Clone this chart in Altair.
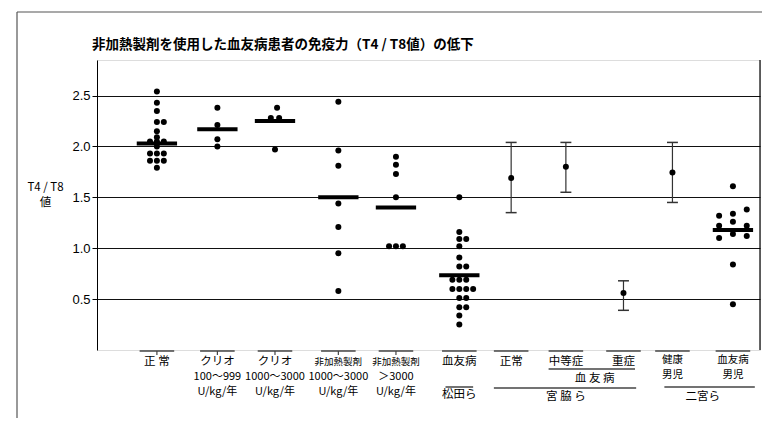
import altair as alt
import pandas as pd

JP = "Noto Sans CJK JP"
title_text = "非加熱製剤を使用した血友病患者の免疫力（T4 / T8値）の低下"

# ---- groups (left to right) ----
group_pos = [1.0, 2.05, 3.05, 4.15, 5.15, 6.25, 7.15, 8.1, 9.1, 9.95, 11.0]
row1_labels = ["正 常", "クリオ", "クリオ", "非加熱製剤", "非加熱製剤", "血友病",
               "正常", "中等症", "重症", "健康", "血友病"]
row2_labels = ["", "100〜999", "1000〜3000", "1000〜3000", "＞3000", "",
               "", "", "", "男児", "男児"]
row3_labels = ["", "U/kg/年", "U/kg/年", "U/kg/年", "U/kg/年", "",
               "", "", "", "", ""]

# ---- individual values (dot groups) ----
g1_vals = [2.54, 2.43, 2.35, 2.24, 2.24, 2.15, 2.09, 2.05, 2.05, 2.05, 2.0,
           1.93, 1.93, 1.93, 1.86, 1.86, 1.86, 1.79]
g1_cols = [0, 0, 0, 0, 1, 0, 0, -1, 0, 1, 0, -1, 0, 1, -1, 0, 1, 0]
g2_vals = [2.38, 2.21, 2.07, 2.0]
g2_cols = [0, 0, 0, 0]
g3_vals = [2.38, 2.28, 2.28, 1.97]
g3_cols = [0.3, -0.6, 0.6, 0]
g4_vals = [2.44, 1.96, 1.81, 1.44, 1.21, 0.95, 0.58]
g4_cols = [0, 0, 0, 0, 0, 0, 0]
g5_vals = [1.90, 1.82, 1.73, 1.50, 1.02, 1.02, 1.02]
g5_cols = [0, 0, 0, 0, -1, 0, 1]
g6_vals = [1.50, 1.16, 1.09, 1.09, 1.02, 0.91, 0.82, 0.82, 0.69, 0.69, 0.69,
           0.60, 0.60, 0.60, 0.60, 0.51, 0.51, 0.42, 0.42, 0.34, 0.25]
g6_cols = [0, 0, 0, 1, 0, 0, 0, 1, -1, 0, 1, -1, 0, 1, 2, 0, 1, 0, 1, 0, 0]
g11_vals = [1.61, 1.38, 1.34, 1.32, 1.26, 1.22, 1.22, 1.14, 1.12, 1.10, 0.84, 0.45]
g11_cols = [0, 2, 0, -2, 0, -2, 2, 0, 2, -2, 0, 0]

# medians (thick bars)
median_groups = [0, 1, 2, 3, 4, 5, 10]
median_vals = [2.03, 2.17, 2.25, 1.50, 1.40, 0.735, 1.18]

# mean +/- range (error-bar groups)
err_groups = [6, 7, 8, 9]
err_mean = [1.69, 1.80, 0.56, 1.745]
err_low = [1.35, 1.55, 0.39, 1.45]
err_high = [2.04, 2.04, 0.68, 2.04]

COL_STEP = 0.12
BAR_HALF = 0.35
CAP_HALF = 0.095
BRACKET_HALF = 0.3

dot_sets = [(0, g1_vals, g1_cols), (1, g2_vals, g2_cols), (2, g3_vals, g3_cols),
            (3, g4_vals, g4_cols), (4, g5_vals, g5_cols), (5, g6_vals, g6_cols),
            (10, g11_vals, g11_cols)]
dots = pd.DataFrame([
    {"x": group_pos[g] + c * COL_STEP, "value": v}
    for g, vals, cols in dot_sets for v, c in zip(vals, cols)
])
med = pd.DataFrame({
    "x": [group_pos[g] - BAR_HALF for g in median_groups],
    "x2": [group_pos[g] + BAR_HALF for g in median_groups],
    "value": median_vals,
})
err = pd.DataFrame({
    "x": [group_pos[g] for g in err_groups],
    "xa": [group_pos[g] - CAP_HALF for g in err_groups],
    "xb": [group_pos[g] + CAP_HALF for g in err_groups],
    "mean": err_mean, "low": err_low, "high": err_high,
})
groups = pd.DataFrame({
    "x": group_pos,
    "xa": [p - BRACKET_HALF for p in group_pos],
    "xb": [p + BRACKET_HALF for p in group_pos],
    "r1": row1_labels, "r2": row2_labels, "r3": row3_labels,
    "idx": list(range(len(group_pos))),
})

xscale = alt.Scale(domain=[-0.04, 11.47], nice=False, zero=False)
yscale = alt.Scale(domain=[0, 2.85], nice=False, zero=False)
yaxis = alt.Axis(values=[0.5, 1.0, 1.5, 2.0, 2.5], format=".1f",
                 title=["T4 / T8", "値"], titleAngle=0, titleAlign="center",
                 titleBaseline="top", titleX=-52, titleY=121, titleFontSize=11.5,
                 titleLineHeight=15,
                 titleFontWeight="normal", titleFont=JP, titleColor="black",
                 labelFont="Liberation Sans", labelFontSize=13, labelColor="black",
                 labelPadding=2, tickSize=5, tickColor="black", domainColor="black",
                 grid=True, gridColor="#111", gridWidth=1.2)


def X(f):
    return alt.X(f, type="quantitative", scale=xscale, axis=None)


def Y(f):
    return alt.Y(f, type="quantitative", scale=yscale, axis=yaxis)


one = pd.DataFrame({"a": [0]})
title_df = pd.DataFrame({"t": [title_text]})

title_layer = alt.Chart(title_df).mark_text(
    font=JP, fontSize=13.5, fontWeight="bold", color="black",
    align="left", baseline="middle").encode(
    x=alt.value(-5), y=alt.value(-15), text="t:N")

right_line = alt.Chart(one).mark_rule(color="black", strokeWidth=1.2).encode(
    x=alt.value(663), y=alt.value(0), y2=alt.value(290))

dot_layer = alt.Chart(dots).mark_circle(size=36, color="black", opacity=1).encode(
    x=X("x"), y=Y("value"))

med_layer = alt.Chart(med).mark_rule(color="black", strokeWidth=4).encode(
    x=X("x"), x2=alt.X2("x2"), y=Y("value"))

err_line = alt.Chart(err).mark_rule(color="#333", strokeWidth=1.2).encode(
    x=X("x"), y=Y("low"), y2=alt.Y2("high"))
cap_lo = alt.Chart(err).mark_rule(color="#333", strokeWidth=1.5).encode(
    x=X("xa"), x2=alt.X2("xb"), y=Y("low"))
cap_hi = alt.Chart(err).mark_rule(color="#333", strokeWidth=1.5).encode(
    x=X("xa"), x2=alt.X2("xb"), y=Y("high"))
err_dot = alt.Chart(err).mark_circle(size=36, color="black", opacity=1).encode(
    x=X("x"), y=Y("mean"))

bracket = alt.Chart(groups).mark_rule(color="#444", strokeWidth=1.5).encode(
    x=X("xa"), x2=alt.X2("xb"), y=alt.value(291))
bracket_tick = alt.Chart(groups).transform_filter("datum.idx <= 4").mark_rule(
    color="#444", strokeWidth=1.2).encode(x=X("x"), y=alt.value(291), y2=alt.value(295))

txt = dict(font=JP, color="black", baseline="middle", align="center")
row1 = alt.Chart(groups).transform_filter(
    "datum.idx != 3 && datum.idx != 4 && datum.idx < 9").mark_text(
    fontSize=11.5, **txt).encode(x=X("x"), y=alt.value(302), text="r1:N")
row1s = alt.Chart(groups).transform_filter("datum.idx == 3 || datum.idx == 4").mark_text(
    fontSize=9.5, **txt).encode(x=X("x"), y=alt.value(302), text="r1:N")
row1b = alt.Chart(groups).transform_filter("datum.idx >= 9").mark_text(
    fontSize=10.5, **txt).encode(x=X("x"), y=alt.value(300), text="r1:N")
row2 = alt.Chart(groups).transform_filter("datum.idx <= 4").mark_text(
    fontSize=11, **txt).encode(x=X("x"), y=alt.value(317), text="r2:N")
row2b = alt.Chart(groups).transform_filter("datum.idx >= 9").mark_text(
    fontSize=10.5, **txt).encode(x=X("x"), y=alt.value(315), text="r2:N")
row3 = alt.Chart(groups).transform_filter("datum.idx <= 4").mark_text(
    fontSize=11, **txt).encode(x=X("x"), y=alt.value(332), text="r3:N")

# group captions below
cap_matsuda = pd.DataFrame({"x": [group_pos[5]], "xa": [group_pos[5] - 0.24],
                            "xb": [group_pos[5] + 0.24], "t": ["松田ら"]})
cap_hemo = pd.DataFrame({"x": [(group_pos[7] + group_pos[8]) / 2],
                         "xa": [group_pos[7] - 0.3], "xb": [group_pos[8] + 0.2],
                         "t": ["血 友 病"]})
cap_miya = pd.DataFrame({"x": [group_pos[7]], "xa": [group_pos[6] - 0.3],
                         "xb": [group_pos[8] + 0.22], "t": ["宮 脇 ら"]})
cap_nino = pd.DataFrame({"x": [(group_pos[9] + group_pos[10]) / 2],
                         "xa": [group_pos[9] - 0.14], "xb": [group_pos[10] + 0.38],
                         "t": ["二宮ら"]})


def caption(df, line_y, text_y):
    ln = alt.Chart(df).mark_rule(color="#444", strokeWidth=1.5).encode(
        x=X("xa"), x2=alt.X2("xb"), y=alt.value(line_y))
    tx = alt.Chart(df).mark_text(fontSize=11.5, **txt).encode(
        x=X("x"), y=alt.value(text_y), text="t:N")
    return [ln, tx]


captions = (caption(cap_matsuda, 327, 335) + caption(cap_hemo, 309, 319)
            + caption(cap_miya, 328, 337) + caption(cap_nino, 327, 337))

frame_left = alt.Chart(one).mark_rule(color="#555", strokeWidth=1.2).encode(
    x=alt.value(-80), y=alt.value(-48), y2=alt.value(360))
frame_top = alt.Chart(one).mark_rule(color="#555", strokeWidth=1.2).encode(
    x=alt.value(-80), x2=alt.value(673), y=alt.value(-48))

chart = alt.layer(
    right_line, dot_layer, med_layer, err_line, cap_lo, cap_hi, err_dot,
    bracket, bracket_tick, row1, row1s, row1b, row2, row2b, row3, *captions,
    frame_left, frame_top, title_layer,
).properties(
    width=663, height=290,
    padding={"left": 89, "top": 52, "right": 2, "bottom": 68},
    autosize=alt.AutoSizeParams(type="none"),
).configure_view(stroke=None).configure(background="white")

chart.save("out.html", embed_options={"renderer": "svg", "actions": False})
